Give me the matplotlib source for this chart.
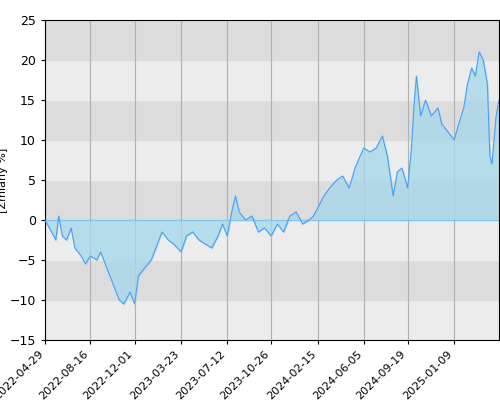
import matplotlib
matplotlib.use("Agg")
import matplotlib.pyplot as plt
import matplotlib.dates as mdates
import numpy as np
import pandas as pd

dates = ["2022-04-29","2022-05-15","2022-05-25","2022-06-01","2022-06-10","2022-06-20","2022-07-01",
         "2022-07-10","2022-07-25","2022-08-05","2022-08-16","2022-09-01","2022-09-10","2022-09-25",
         "2022-10-10","2022-10-25","2022-11-05","2022-11-20","2022-12-01","2022-12-10","2022-12-25",
         "2023-01-10","2023-01-25","2023-02-05","2023-02-20","2023-03-05","2023-03-23","2023-04-05",
         "2023-04-20","2023-05-05","2023-05-20","2023-06-05","2023-06-20","2023-07-01","2023-07-12",
         "2023-07-25","2023-08-01","2023-08-10","2023-08-25","2023-09-10","2023-09-25","2023-10-10",
         "2023-10-26","2023-11-10","2023-11-25","2023-12-10","2023-12-25","2024-01-10","2024-01-25",
         "2024-02-05","2024-02-15","2024-03-01","2024-03-15","2024-04-01","2024-04-15","2024-05-01",
         "2024-05-15","2024-06-05","2024-06-20","2024-07-05","2024-07-20","2024-08-01","2024-08-15",
         "2024-08-25","2024-09-05","2024-09-19","2024-09-28","2024-10-05","2024-10-10","2024-10-20",
         "2024-11-01","2024-11-15","2024-12-01","2024-12-10","2024-12-25","2025-01-09","2025-01-20",
         "2025-02-01","2025-02-10","2025-02-20","2025-03-01","2025-03-10","2025-03-20","2025-03-30",
         "2025-04-05","2025-04-10","2025-04-20","2025-04-27"]
values = [0, -1.5, -2.5, 0.5, -2, -2.5, -1,
          -3.5, -4.5, -5.5, -4.5, -5, -4, -6,
          -8, -10, -10.5, -9, -10.5, -7, -6,
          -5, -3, -1.5, -2.5, -3, -4, -2,
          -1.5, -2.5, -3, -3.5, -2, -0.5, -2,
          1.5, 3, 1, 0, 0.5, -1.5, -1,
          -2, -0.5, -1.5, 0.5, 1, -0.5, 0,
          0.5, 1.5, 3, 4, 5, 5.5, 4,
          6.5, 9, 8.5, 9, 10.5, 8, 3,
          6, 6.5, 4, 9, 15, 18, 13,
          15, 13, 14, 12, 11, 10, 12,
          14, 17, 19, 18, 21, 20, 17,
          8, 7, 13, 15]
tick_dates = ["2022-04-29","2022-08-16","2022-12-01","2023-03-23","2023-07-12","2023-10-26",
              "2024-02-15","2024-06-05","2024-09-19","2025-01-09"]

x = pd.to_datetime(dates)
y = np.array(values, dtype=float)
ticks = pd.to_datetime(tick_dates)

fig = plt.figure(figsize=(5, 4), dpi=100)
ax = fig.add_axes([0.09, 0.15, 0.908, 0.8])
for i, lo in enumerate(range(-15, 25, 5)):
    ax.axhspan(lo, lo + 5, color="#ececec" if i % 2 == 0 else "#dcdcdc", zorder=0)
for t in ticks:
    ax.axvline(t, color="#b0b0b0", lw=0.8, zorder=1)
ax.fill_between(x, 0, y, color="#a8d8ea", alpha=0.8, zorder=2)
ax.plot(x, y, color="#4a9ff5", lw=0.8, zorder=3)
ax.axhline(0, color="#7fc6f0", lw=0.8, zorder=2)

ax.set_ylim(-15, 25)
ax.set_xlim(x[0], x[-1])
ax.set_yticks(range(-15, 26, 5))
ax.set_xticks(ticks)
ax.xaxis.set_major_formatter(mdates.DateFormatter("%Y-%m-%d"))
plt.setp(ax.get_xticklabels(), rotation=45, ha="right", fontsize=8)
plt.setp(ax.get_yticklabels(), fontsize=9)
ax.set_ylabel("[Zmiany %]", fontsize=8, labelpad=1)
ax.tick_params(length=3)
fig.savefig("out.png")
